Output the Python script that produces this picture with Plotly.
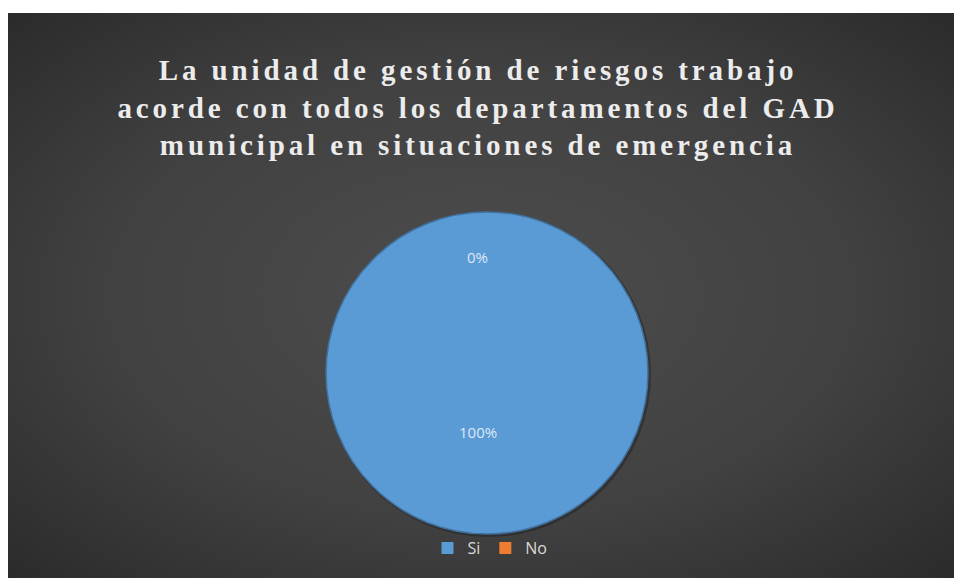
import base64
import math
import plotly.graph_objects as go

# Survey answers
categories = ["Si", "No"]
values = [100, 0]
colors = ["#5b9bd5", "#ed7d31"]

title_lines = [
    "La unidad de gestión de riesgos trabajo",
    "acorde con todos los departamentos del GAD",
    "municipal en situaciones de emergencia",
]

W, H = 954, 578

# Dark panel with a soft radial gradient
svg = (
    '<svg xmlns="http://www.w3.org/2000/svg" width="946" height="565">'
    '<defs><radialGradient id="g" cx="50%" cy="50%" r="72%">'
    '<stop offset="0" stop-color="#4d4d4d"/>'
    '<stop offset="0.55" stop-color="#414141"/>'
    '<stop offset="1" stop-color="#2a2a2a"/>'
    '</radialGradient></defs>'
    '<rect width="946" height="565" fill="url(#g)"/></svg>'
)
bg_uri = "data:image/svg+xml;base64," + base64.b64encode(svg.encode()).decode()

# Pie geometry in pixels
cx, cy, r = 487, 373, 161

fig = go.Figure()
fig.add_trace(go.Pie(
    labels=categories,
    values=values,
    marker=dict(colors=colors, line=dict(width=0)),
    textinfo="none",
    sort=False,
    direction="clockwise",
    rotation=0,
    hoverinfo="label+percent",
    domain=dict(x=[(cx - r) / W, (cx + r) / W],
                y=[(H - cy - r) / H, (H - cy + r) / H]),
))

# Percentage labels at each slice's mid-angle
total = sum(values)
label_radius = {0: 0.44, 1: 0.72}
annotations = []
start = 0.0
for i, v in enumerate(values):
    frac = v / total
    mid = (start + frac / 2) * 2 * math.pi
    if frac == 0:
        mid = 2 * math.pi * start
    start += frac
    f = label_radius[i]
    px = cx + f * r * math.sin(mid) - 9
    py = cy - f * r * math.cos(mid)
    annotations.append(dict(
        x=px / W, y=1 - py / H, xref="paper", yref="paper",
        text=f"{round(frac * 100)}%", showarrow=False,
        font=dict(family="Open Sans", size=15, color="#dbe8f5"),
    ))

fig.update_layout(
    width=W, height=H,
    margin=dict(l=0, r=0, t=0, b=0),
    paper_bgcolor="white",
    plot_bgcolor="white",
    images=[dict(source=bg_uri, xref="paper", yref="paper",
                 x=8 / W, y=1 - 13 / H, sizex=946 / W, sizey=565 / H,
                 xanchor="left", yanchor="top", sizing="stretch", layer="below")],
    shapes=[
        # soft shadow under the pie
        dict(type="circle", xref="paper", yref="paper", layer="below",
             x0=(cx - r) / W, x1=(cx + r + 3) / W,
             y0=1 - (cy + r + 3) / H, y1=1 - (cy - r) / H,
             fillcolor="rgba(20,20,20,0.35)", line=dict(width=0)),
        # pie rim
        dict(type="circle", xref="paper", yref="paper", layer="above",
             x0=(cx - r) / W, x1=(cx + r) / W,
             y0=1 - (cy + r) / H, y1=1 - (cy - r) / H,
             fillcolor="rgba(0,0,0,0)", line=dict(color="#41719c", width=1.5)),
    ],
    title=dict(
        text="<br>".join(title_lines),
        x=478 / W, xanchor="center",
        y=1 - 80 / H, yanchor="middle",
        font=dict(family="Liberation Serif", size=29, color="#ececec", weight="bold"),
    ),
    legend=dict(
        orientation="h", x=490 / W, xanchor="center",
        y=1 - 548 / H, yanchor="middle",
        font=dict(family="Open Sans", size=16, color="#d9d9d9"),
        bgcolor="rgba(0,0,0,0)", itemwidth=30,
    ),
    annotations=annotations,
)

spacing_js = (
    "document.querySelectorAll('.gtitle').forEach(function(e){"
    "e.style.letterSpacing='3.9px';});"
)
fig.write_html("out.html", post_script=spacing_js)
